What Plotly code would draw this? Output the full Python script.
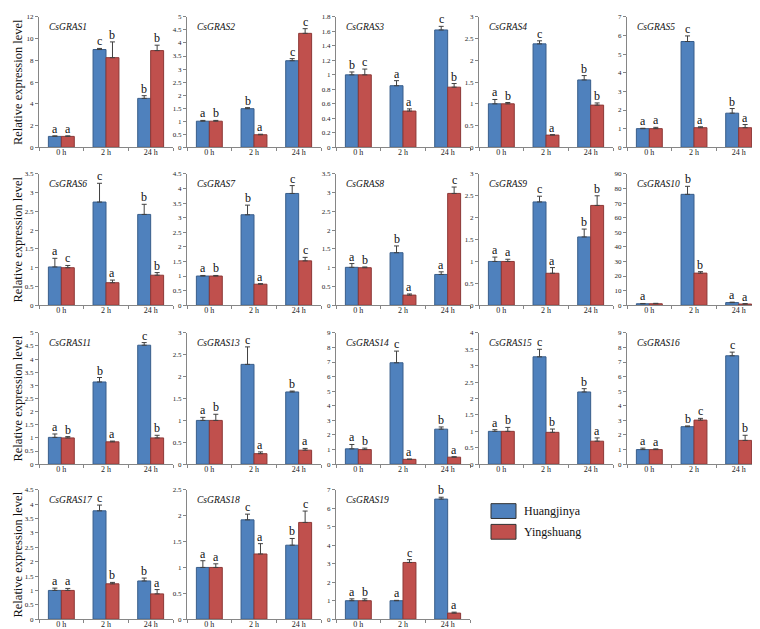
import plotly.graph_objects as go

# ---------------- data ----------------
genes = ["CsGRAS1", "CsGRAS2", "CsGRAS3", "CsGRAS4", "CsGRAS5",
         "CsGRAS6", "CsGRAS7", "CsGRAS8", "CsGRAS9", "CsGRAS10",
         "CsGRAS11", "CsGRAS13", "CsGRAS14", "CsGRAS15", "CsGRAS16",
         "CsGRAS17", "CsGRAS18", "CsGRAS19"]
times = ["0 h", "2 h", "24 h"]

huang_mean = [[1.0, 9.0, 4.5], [1.0, 1.48, 3.32], [1.0, 0.85, 1.62], [1.0, 2.38, 1.55], [1.0, 5.68, 1.83],
              [1.02, 2.75, 2.42], [1.0, 3.1, 3.83], [1.01, 1.4, 0.82], [1.0, 2.36, 1.56], [1.0, 76.0, 1.8],
              [1.02, 3.13, 4.53], [1.0, 2.28, 1.65], [1.05, 6.95, 2.4], [1.0, 3.27, 2.2], [1.0, 2.57, 7.43],
              [1.0, 3.77, 1.33], [1.0, 1.92, 1.43], [1.0, 1.0, 6.5]]
huang_err = [[0.05, 0.1, 0.25], [0.03, 0.04, 0.08], [0.04, 0.07, 0.05], [0.1, 0.07, 0.1], [0.02, 0.3, 0.25],
             [0.23, 0.5, 0.27], [0.02, 0.33, 0.27], [0.1, 0.18, 0.07], [0.1, 0.13, 0.18], [0.2, 5.5, 0.3],
             [0.13, 0.17, 0.1], [0.07, 0.4, 0.02], [0.3, 0.8, 0.15], [0.05, 0.23, 0.1], [0.1, 0.05, 0.25],
             [0.08, 0.2, 0.1], [0.13, 0.11, 0.13], [0.1, 0.02, 0.1]]
huang_sig = [["a", "c", "b"], ["a", "b", "c"], ["b", "a", "c"], ["a", "c", "b"], ["a", "c", "b"],
             ["a", "c", "b"], ["a", "b", "c"], ["a", "b", "a"], ["a", "c", "b"], ["a", "b", "a"],
             ["a", "b", "c"], ["a", "c", "b"], ["a", "c", "b"], ["a", "c", "b"], ["a", "b", "c"],
             ["a", "c", "b"], ["a", "c", "b"], ["a", "a", "b"]]

ying_mean = [[1.0, 8.25, 8.9], [1.0, 0.48, 4.37], [1.0, 0.5, 0.83], [1.0, 0.28, 0.97], [1.0, 1.05, 1.05],
             [1.0, 0.6, 0.8], [1.0, 0.72, 1.52], [1.0, 0.27, 2.98], [1.0, 0.73, 2.28], [1.0, 22.0, 0.8],
             [1.0, 0.85, 1.0], [1.0, 0.24, 0.32], [1.0, 0.33, 0.48], [1.0, 0.97, 0.7], [1.0, 3.02, 1.63],
             [1.0, 1.23, 0.88], [1.0, 1.26, 1.87], [1.0, 3.07, 0.33]]
ying_err = [[0.05, 1.45, 0.5], [0.03, 0.02, 0.18], [0.08, 0.03, 0.05], [0.03, 0.01, 0.05], [0.07, 0.05, 0.17],
            [0.06, 0.07, 0.07], [0.02, 0.02, 0.12], [0.02, 0.03, 0.17], [0.05, 0.13, 0.22], [0.3, 1.0, 0.3],
            [0.05, 0.03, 0.1], [0.14, 0.04, 0.04], [0.1, 0.02, 0.03], [0.12, 0.1, 0.1], [0.05, 0.12, 0.35],
            [0.07, 0.05, 0.15], [0.07, 0.2, 0.22], [0.1, 0.15, 0.05]]
ying_sig = [["a", "b", "b"], ["b", "a", "c"], ["c", "a", "b"], ["b", "a", "b"], ["a", "a", "a"],
            ["c", "a", "b"], ["b", "a", "c"], ["b", "a", "c"], ["a", "a", "b"], ["", "b", "a"],
            ["b", "a", "b"], ["b", "a", "a"], ["b", "a", "a"], ["b", "b", "a"], ["a", "c", "b"],
            ["a", "b", "a"], ["a", "a", "c"], ["b", "c", "a"]]

y_max = [12, 5, 1.8, 3, 7, 3.5, 4.5, 3.5, 3, 90, 5, 3, 9, 4, 9, 4.5, 2.5, 7]
y_dtick = [2, 0.5, 0.2, 0.5, 1, 0.5, 0.5, 0.5, 0.5, 10, 0.5, 0.5, 1, 0.5, 1, 0.5, 0.5, 1]

series_names = ["Huangjinya", "Yingshuang"]
y_title = "Relative expression level"

# ---------------- style ----------------
W, H = 760, 629
BLUE, BLUE_EDGE = "#4F81BD", "#385D8A"
RED, RED_EDGE = "#C0504D", "#8C3836"
AXIS = "#868686"
ERR = "#404040"
FONT = "Times New Roman, Liberation Serif, serif"
BARGAP = 0.42
half = (1 - BARGAP) / 4  # offset of each bar centre from category centre

col_x0 = [31, 179, 328, 471, 619]
col_w = 134
row_top = [5, 164, 325, 484]
row_bot = [137, 297, 458, 615]

fig = go.Figure()
annotations = []

for k, gene in enumerate(genes):
    r, c = divmod(k, 5)
    n = k + 1
    xa = "x" if n == 1 else f"x{n}"
    ya = "y" if n == 1 else f"y{n}"
    xkey = "xaxis" if n == 1 else f"xaxis{n}"
    ykey = "yaxis" if n == 1 else f"yaxis{n}"

    for means, errs, col, edge, nm, og in [
        (huang_mean[k], huang_err[k], BLUE, BLUE_EDGE, series_names[0], "h"),
        (ying_mean[k], ying_err[k], RED, RED_EDGE, series_names[1], "y"),
    ]:
        fig.add_trace(go.Bar(
            x=times, y=means, name=nm, offsetgroup=og, showlegend=False,
            xaxis=xa, yaxis=ya,
            marker=dict(color=col, line=dict(color=edge, width=1)),
            error_y=dict(type="data", array=errs, arrayminus=[0] * len(errs), symmetric=False,
                         color=ERR, thickness=1, width=2.5),
        ))

    fig.layout[xkey] = dict(
        domain=[col_x0[c] / W, (col_x0[c] + col_w) / W], anchor=ya,
        type="category", showline=True, linecolor=AXIS, linewidth=1,
        ticks="outside", tickson="boundaries", ticklen=3, tickcolor=AXIS,
        ticklabelstandoff=-3,
        tickfont=dict(family=FONT, size=8, color="#222", weight="normal"),
        showgrid=False, zeroline=False, fixedrange=True,
    )
    fig.layout[ykey] = dict(
        domain=[1 - row_bot[r] / H, 1 - row_top[r] / H], anchor=xa,
        range=[0, y_max[k]], dtick=y_dtick[k], tick0=0,
        showline=True, linecolor=AXIS, linewidth=1,
        ticks="outside", ticklen=3, tickcolor=AXIS,
        tickfont=dict(family=FONT, size=7, color="#222", weight="normal"),
        showgrid=False, zeroline=False, fixedrange=True,
    )

    # gene title
    annotations.append(dict(text=f"<i>{gene}</i>", xref=f"{xa} domain", yref=f"{ya} domain",
                            x=0.06, y=0.975, xanchor="left", yanchor="top", showarrow=False,
                            font=dict(family=FONT, size=9.5, color="#111", weight="normal")))
    # significance letters
    for i in range(len(times)):
        for means, errs, sig, sgn in [(huang_mean[k], huang_err[k], huang_sig[k], -1),
                                      (ying_mean[k], ying_err[k], ying_sig[k], 1)]:
            if sig[i]:
                annotations.append(dict(text=sig[i], xref=xa, yref=ya,
                                        x=i + sgn * half, y=means[i] + errs[i],
                                        xanchor="center", yanchor="bottom", yshift=-2,
                                        showarrow=False,
                                        font=dict(family=FONT, size=12, color="#111", weight="normal")))

# y titles per row
for r in range(4):
    annotations.append(dict(text=y_title, xref="paper", yref="paper",
                            x=10 / W, y=1 - (row_top[r] + row_bot[r]) / 2 / H,
                            textangle=-90, showarrow=False, xanchor="center", yanchor="middle",
                            font=dict(family=FONT, size=12.5, color="#111", weight="normal")))

# manual legend
shapes = []
leg_x0, leg_x1 = 483, 508
leg_rows = [(498, 513), (519, 534)]
for (y0, y1), col, edge, nm in zip(leg_rows, [BLUE, RED], [BLUE_EDGE, RED_EDGE], series_names):
    shapes.append(dict(type="rect", xref="paper", yref="paper",
                       x0=leg_x0 / W, x1=leg_x1 / W, y0=1 - y1 / H, y1=1 - y0 / H,
                       fillcolor=col, line=dict(color="#333", width=1)))
    annotations.append(dict(text=nm, xref="paper", yref="paper", x=514 / W, y=1 - (y0 + y1) / 2 / H,
                            xanchor="left", yanchor="middle", showarrow=False,
                            font=dict(family=FONT, size=12, color="#111", weight="normal")))

fig.update_layout(
    width=W, height=H, margin=dict(l=0, r=0, t=0, b=0),
    paper_bgcolor="white", plot_bgcolor="white",
    barmode="group", bargap=BARGAP, bargroupgap=0,
    annotations=annotations, shapes=shapes, showlegend=False,
    font=dict(family=FONT),
)

fig.write_html("out.html")
